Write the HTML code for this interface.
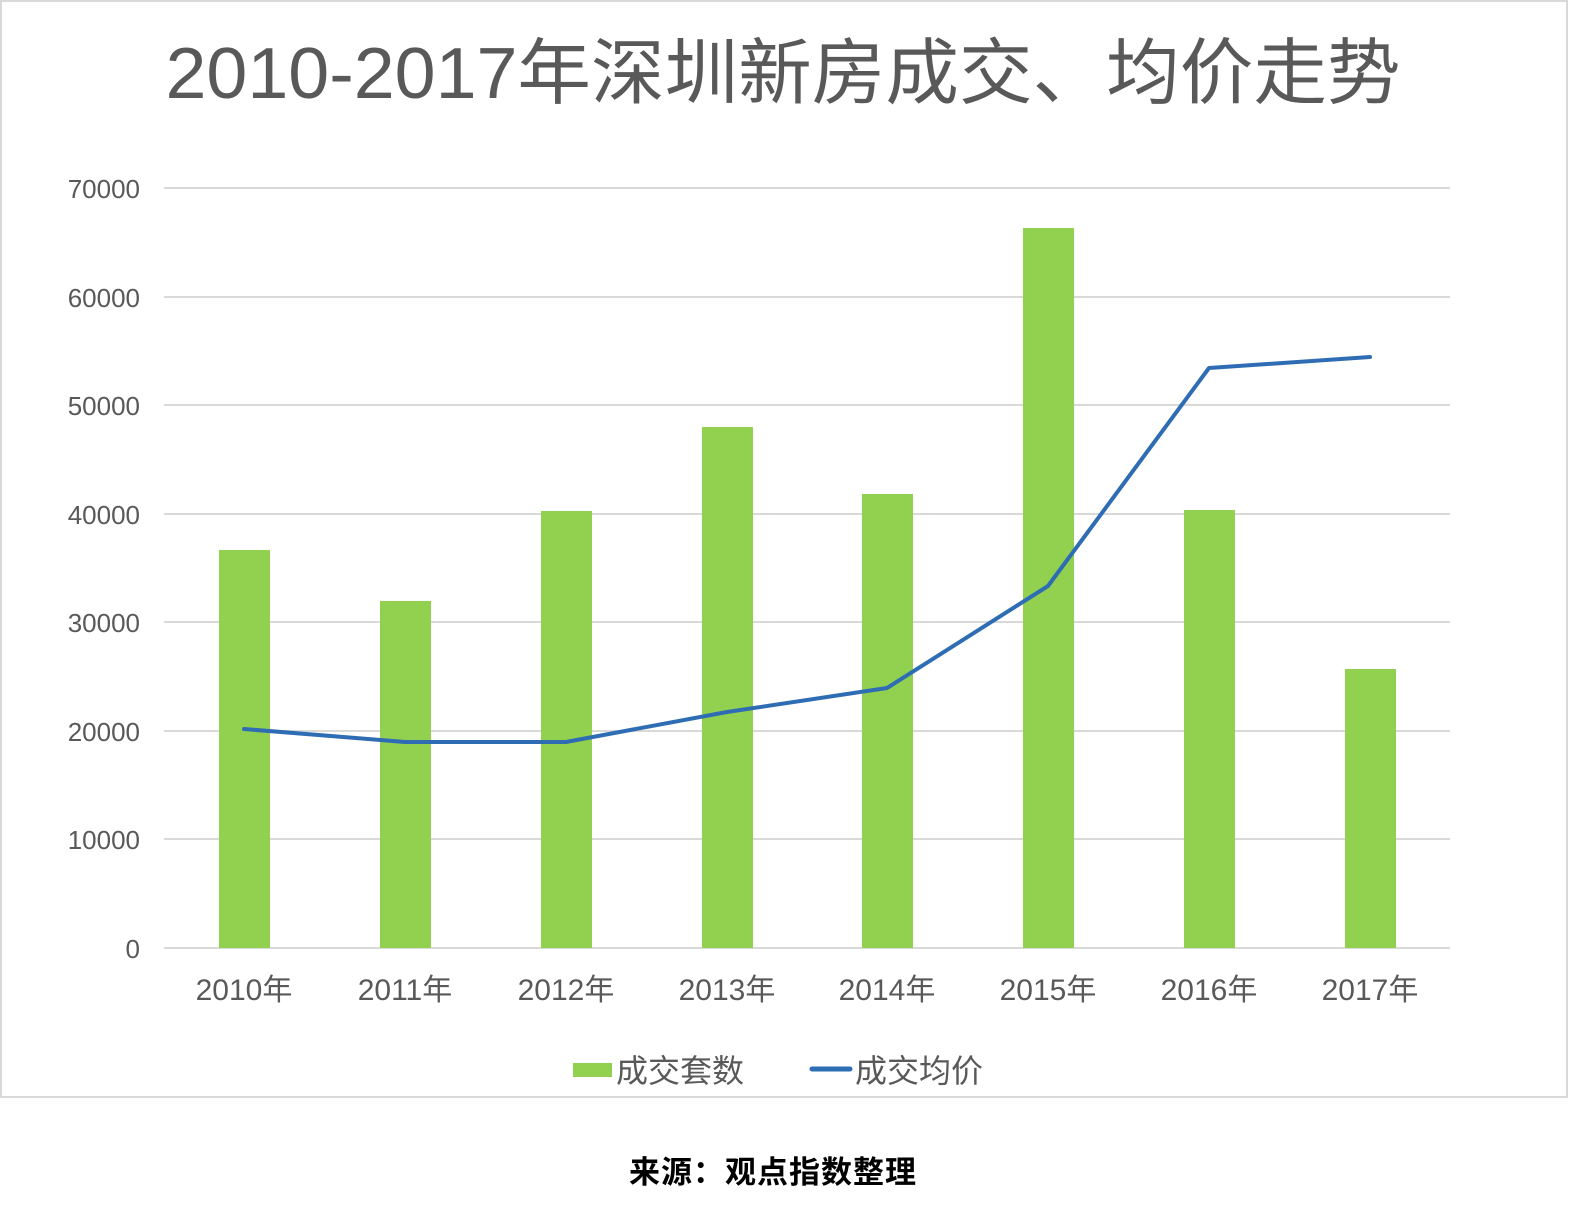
<!DOCTYPE html>
<html><head><meta charset="utf-8"><style>
body{margin:0;background:#fff;}
svg{display:block;}
text{font-family:"Liberation Sans","Noto Sans CJK SC",sans-serif;}
</style></head><body>
<svg width="1569" height="1210" xmlns="http://www.w3.org/2000/svg">
<rect x="1" y="1" width="1566" height="1096" fill="#fff" stroke="#d9d9d9" stroke-width="2"/>
<text x="783" y="98" font-size="72" fill="#595959" text-anchor="middle" textLength="1235" lengthAdjust="spacingAndGlyphs">2010-2017年深圳新房成交、均价走势</text>
<g stroke="#d9d9d9" stroke-width="2">
<line x1="164" x2="1450" y1="188" y2="188"/>
<line x1="164" x2="1450" y1="297" y2="297"/>
<line x1="164" x2="1450" y1="405" y2="405"/>
<line x1="164" x2="1450" y1="514" y2="514"/>
<line x1="164" x2="1450" y1="622" y2="622"/>
<line x1="164" x2="1450" y1="731" y2="731"/>
<line x1="164" x2="1450" y1="839" y2="839"/>
<line x1="164" x2="1450" y1="948" y2="948"/>
</g>
<g font-size="26" fill="#595959" text-anchor="end">
<text x="140" y="198">70000</text>
<text x="140" y="307">60000</text>
<text x="140" y="415">50000</text>
<text x="140" y="524">40000</text>
<text x="140" y="632">30000</text>
<text x="140" y="741">20000</text>
<text x="140" y="849">10000</text>
<text x="140" y="958">0</text>
</g>
<g fill="#92d050">
<rect x="219" y="550" width="51" height="398"/>
<rect x="380" y="601" width="51" height="347"/>
<rect x="541" y="511" width="51" height="437"/>
<rect x="702" y="427" width="51" height="521"/>
<rect x="862" y="494" width="51" height="454"/>
<rect x="1023" y="228" width="51" height="720"/>
<rect x="1184" y="510" width="51" height="438"/>
<rect x="1345" y="669" width="51" height="279"/>
</g>
<polyline fill="none" stroke="#2e6db4" stroke-width="4" stroke-linejoin="round" stroke-linecap="round" points="244,729 405,742 566,742 727,712 887,688 1048,586 1209,368 1370,357"/>
<g font-size="30" fill="#595959" text-anchor="middle">
<text x="244" y="1000">2010年</text>
<text x="405" y="1000">2011年</text>
<text x="566" y="1000">2012年</text>
<text x="727" y="1000">2013年</text>
<text x="887" y="1000">2014年</text>
<text x="1048" y="1000">2015年</text>
<text x="1209" y="1000">2016年</text>
<text x="1370" y="1000">2017年</text>
</g>
<rect x="573" y="1063" width="39" height="14" fill="#92d050"/>
<text x="616" y="1082" font-size="32" fill="#595959">成交套数</text>
<line x1="812" x2="850" y1="1069" y2="1069" stroke="#2e6db4" stroke-width="5" stroke-linecap="round"/>
<text x="855" y="1082" font-size="32" fill="#595959">成交均价</text>
<text x="773" y="1183" font-size="31" font-weight="700" fill="#000" text-anchor="middle" letter-spacing="1">来源：观点指数整理</text>
</svg>
</body></html>
